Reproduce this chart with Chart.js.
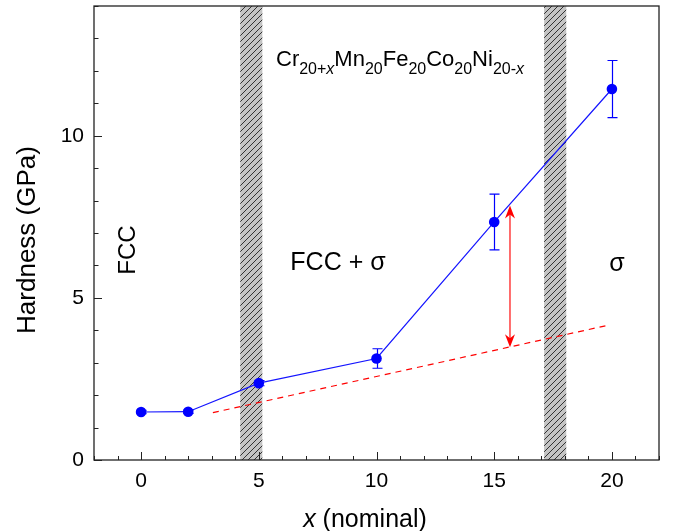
<!DOCTYPE html>
<html><head><meta charset="utf-8">
<script src="https://cdn.jsdelivr.net/npm/chart.js@4.4.1/dist/chart.umd.min.js"></script>
<style>html,body{margin:0;padding:0;background:#fff;}#wrap{width:674px;height:531px;}</style>
</head><body><div id="wrap"><canvas id="c" width="674" height="531"></canvas></div>
<script>
// ---- data ----
const xValues = [0, 2, 5, 10, 15, 20];
const hardness = [1.48, 1.49, 2.37, 3.13, 7.34, 11.44];
const hardnessErr = [0.05, 0.05, 0.08, 0.30, 0.86, 0.88];
const trendX = [3.05, 19.8];
const trendY = [1.46, 4.15];
const phaseBands = [[4.21, 5.15], [17.12, 18.06]];
const arrowX = [15.67];
const arrowY = [3.48, 7.85];
const xTicks = [0, 5, 10, 15, 20];
const yTicks = [0, 5, 10];
const xMinor = [-2,-1,0,1,2,3,4,5,6,7,8,9,10,11,12,13,14,15,16,17,18,19,20,21,22];
const yMinor = [0,1,2,3,4,5,6,7,8,9,10,11,12,13,14];

const FONT = '"Liberation Sans", Arial, Helvetica, sans-serif';

function makeHatch(ctx) {
  const n = 6;
  const p = document.createElement('canvas'); p.width = n; p.height = n;
  const c = p.getContext('2d');
  c.fillStyle = '#c4c4c4'; c.fillRect(0, 0, n, n);
  c.strokeStyle = '#222'; c.lineWidth = 0.9;
  c.beginPath();
  c.moveTo(0, n); c.lineTo(n, 0);
  c.moveTo(-1, 1); c.lineTo(1, -1);
  c.moveTo(n - 1, n + 1); c.lineTo(n + 1, n - 1);
  c.stroke();
  return ctx.createPattern(p, 'repeat');
}

function drawRich(ctx, parts, x, y, size, subSize, subDy) {
  ctx.textBaseline = 'alphabetic'; ctx.textAlign = 'left';
  let cx = x;
  for (const p of parts) {
    const sz = p.sub ? subSize : size;
    ctx.font = (p.it ? 'italic ' : '') + sz + 'px ' + FONT;
    ctx.fillText(p.t, cx, y + (p.sub ? subDy : 0));
    cx += ctx.measureText(p.t).width;
  }
  return cx - x;
}
function richWidth(ctx, parts, size, subSize) {
  let w = 0;
  for (const p of parts) {
    const sz = p.sub ? subSize : size;
    ctx.font = (p.it ? 'italic ' : '') + sz + 'px ' + FONT;
    w += ctx.measureText(p.t).width;
  }
  return w;
}

const annot = {
  formula: { x: 276, y: 66 },
  fcc: { x: 128, y: 250 },
  fccSigma: { x: 338, y: 263 },
  sigma: { x: 617, y: 264 },
  yTitle: { x: 28, y: 240 },
  xTitle: { x: 365, y: 527 }
};

const decor = {
  id: 'decor',
  beforeDatasetsDraw(chart) {
    const ctx = chart.ctx, xs = chart.scales.x, a = chart.chartArea;
    ctx.save();
    ctx.fillStyle = makeHatch(ctx);
    for (const [b0, b1] of phaseBands) {
      const p0 = xs.getPixelForValue(b0), p1 = xs.getPixelForValue(b1);
      ctx.fillRect(p0, a.top, p1 - p0, a.bottom - a.top);
    }
    ctx.restore();
  },
  afterDatasetsDraw(chart) {
    const ctx = chart.ctx, xs = chart.scales.x, ys = chart.scales.y, a = chart.chartArea;
    ctx.save();
    // error bars
    ctx.strokeStyle = '#0000ff'; ctx.lineWidth = 1.2;
    xValues.forEach((xv, i) => {
      const px = Math.round(xs.getPixelForValue(xv)) + 0.5;
      const t = ys.getPixelForValue(hardness[i] + hardnessErr[i]);
      const b = ys.getPixelForValue(hardness[i] - hardnessErr[i]);
      ctx.beginPath();
      ctx.moveTo(px, t); ctx.lineTo(px, b);
      ctx.moveTo(px - 5, t); ctx.lineTo(px + 5, t);
      ctx.moveTo(px - 5, b); ctx.lineTo(px + 5, b);
      ctx.stroke();
    });
    // double arrow
    const ax = xs.getPixelForValue(arrowX[0]);
    const yb = ys.getPixelForValue(arrowY[0]), yt = ys.getPixelForValue(arrowY[1]);
    ctx.strokeStyle = '#ff4a4a'; ctx.lineWidth = 1.6;
    ctx.beginPath(); ctx.moveTo(ax, yt + 8); ctx.lineTo(ax, yb - 8); ctx.stroke();
    ctx.fillStyle = '#ff0000';
    const head = (tipY, dir) => {
      ctx.beginPath();
      ctx.moveTo(ax, tipY);
      ctx.lineTo(ax - 5, tipY + dir * 13);
      ctx.lineTo(ax, tipY + dir * 9);
      ctx.lineTo(ax + 5, tipY + dir * 13);
      ctx.closePath(); ctx.fill();
    };
    head(yt, 1); head(yb, -1);

    // frame
    ctx.strokeStyle = '#222'; ctx.lineWidth = 1.3;
    ctx.strokeRect(a.left, a.top, a.right - a.left, a.bottom - a.top);
    // ticks (inward)
    ctx.strokeStyle = '#222'; ctx.lineWidth = 1;
    ctx.beginPath();
    for (const v of xMinor) {
      const px = Math.round(xs.getPixelForValue(v)) + 0.5;
      const L = xTicks.includes(v) ? 8 : 4;
      ctx.moveTo(px, a.bottom); ctx.lineTo(px, a.bottom - L);
    }
    for (const v of yMinor) {
      const py = Math.round(ys.getPixelForValue(v)) + 0.5;
      const L = yTicks.includes(v) ? 8 : 4.5;
      ctx.moveTo(a.left, py); ctx.lineTo(a.left + L, py);
    }
    ctx.stroke();

    // texts
    ctx.fillStyle = '#000';
    const formula = [
      { t: 'Cr' }, { t: '20+', sub: true }, { t: 'x', sub: true, it: true },
      { t: 'Mn' }, { t: '20', sub: true },
      { t: 'Fe' }, { t: '20', sub: true },
      { t: 'Co' }, { t: '20', sub: true },
      { t: 'Ni' }, { t: '20-', sub: true }, { t: 'x', sub: true, it: true }
    ];
    drawRich(ctx, formula, annot.formula.x, annot.formula.y, 22, 16, 8);

    ctx.font = '24px ' + FONT; ctx.textAlign = 'center'; ctx.textBaseline = 'middle';
    ctx.save(); ctx.translate(annot.fcc.x, annot.fcc.y); ctx.rotate(-Math.PI / 2);
    ctx.fillText('FCC', 0, 0); ctx.restore();
    ctx.font = '25px ' + FONT;
    ctx.fillText('FCC + \u03c3', annot.fccSigma.x, annot.fccSigma.y);
    ctx.fillText('\u03c3', annot.sigma.x, annot.sigma.y);

    // axis titles
    ctx.font = '26px ' + FONT;
    ctx.save(); ctx.translate(annot.yTitle.x, annot.yTitle.y); ctx.rotate(-Math.PI / 2);
    ctx.textAlign = 'center'; ctx.textBaseline = 'middle';
    ctx.fillText('Hardness (GPa)', 0, 0); ctx.restore();
    const xt = [{ t: 'x', it: true }, { t: ' (nominal)' }];
    const w = richWidth(ctx, xt, 25, 25);
    drawRich(ctx, xt, annot.xTitle.x - w / 2, annot.xTitle.y, 25, 25, 0);
    ctx.restore();
  }
};

const mainData = xValues.map((x, i) => ({ x: x, y: hardness[i] }));
const trendData = trendX.map((x, i) => ({ x: x, y: trendY[i] }));

new Chart(document.getElementById('c'), {
  type: 'scatter',
  data: {
    datasets: [
      { data: trendData, showLine: true, borderColor: '#ff0000', borderDash: [6, 5], borderWidth: 1.2, pointRadius: 0, pointHoverRadius: 0 },
      { data: mainData, showLine: true, borderColor: '#1414ff', backgroundColor: '#0000ff', borderWidth: 1.2, pointRadius: 5.3, pointHoverRadius: 5.3, pointBorderWidth: 0 }
    ]
  },
  options: {
    responsive: false, animation: false, devicePixelRatio: 1,
    layout: { padding: { top: 6, right: 15, left: 0, bottom: 0 } },
    plugins: { legend: { display: false }, tooltip: { enabled: false } },
    scales: {
      x: {
        type: 'linear', min: -2, max: 22,
        afterBuildTicks: s => { s.ticks = xTicks.map(v => ({ value: v })); },
        afterFit: s => { s.height = 71; s.paddingLeft = 0; s.paddingRight = 0; },
        grid: { display: false, drawTicks: false }, border: { display: false },
        ticks: { font: { size: 21, family: FONT }, color: '#000', padding: 9, maxRotation: 0, autoSkip: false }
      },
      y: {
        type: 'linear', min: 0, max: 14,
        afterBuildTicks: s => { s.ticks = yTicks.map(v => ({ value: v })); },
        afterFit: s => { s.width = 94; s.paddingTop = 0; s.paddingBottom = 0; },
        grid: { display: false, drawTicks: false }, border: { display: false },
        ticks: { font: { size: 21, family: FONT }, color: '#000', padding: 10, autoSkip: false }
      }
    }
  },
  plugins: [decor]
});
</script></body></html>
